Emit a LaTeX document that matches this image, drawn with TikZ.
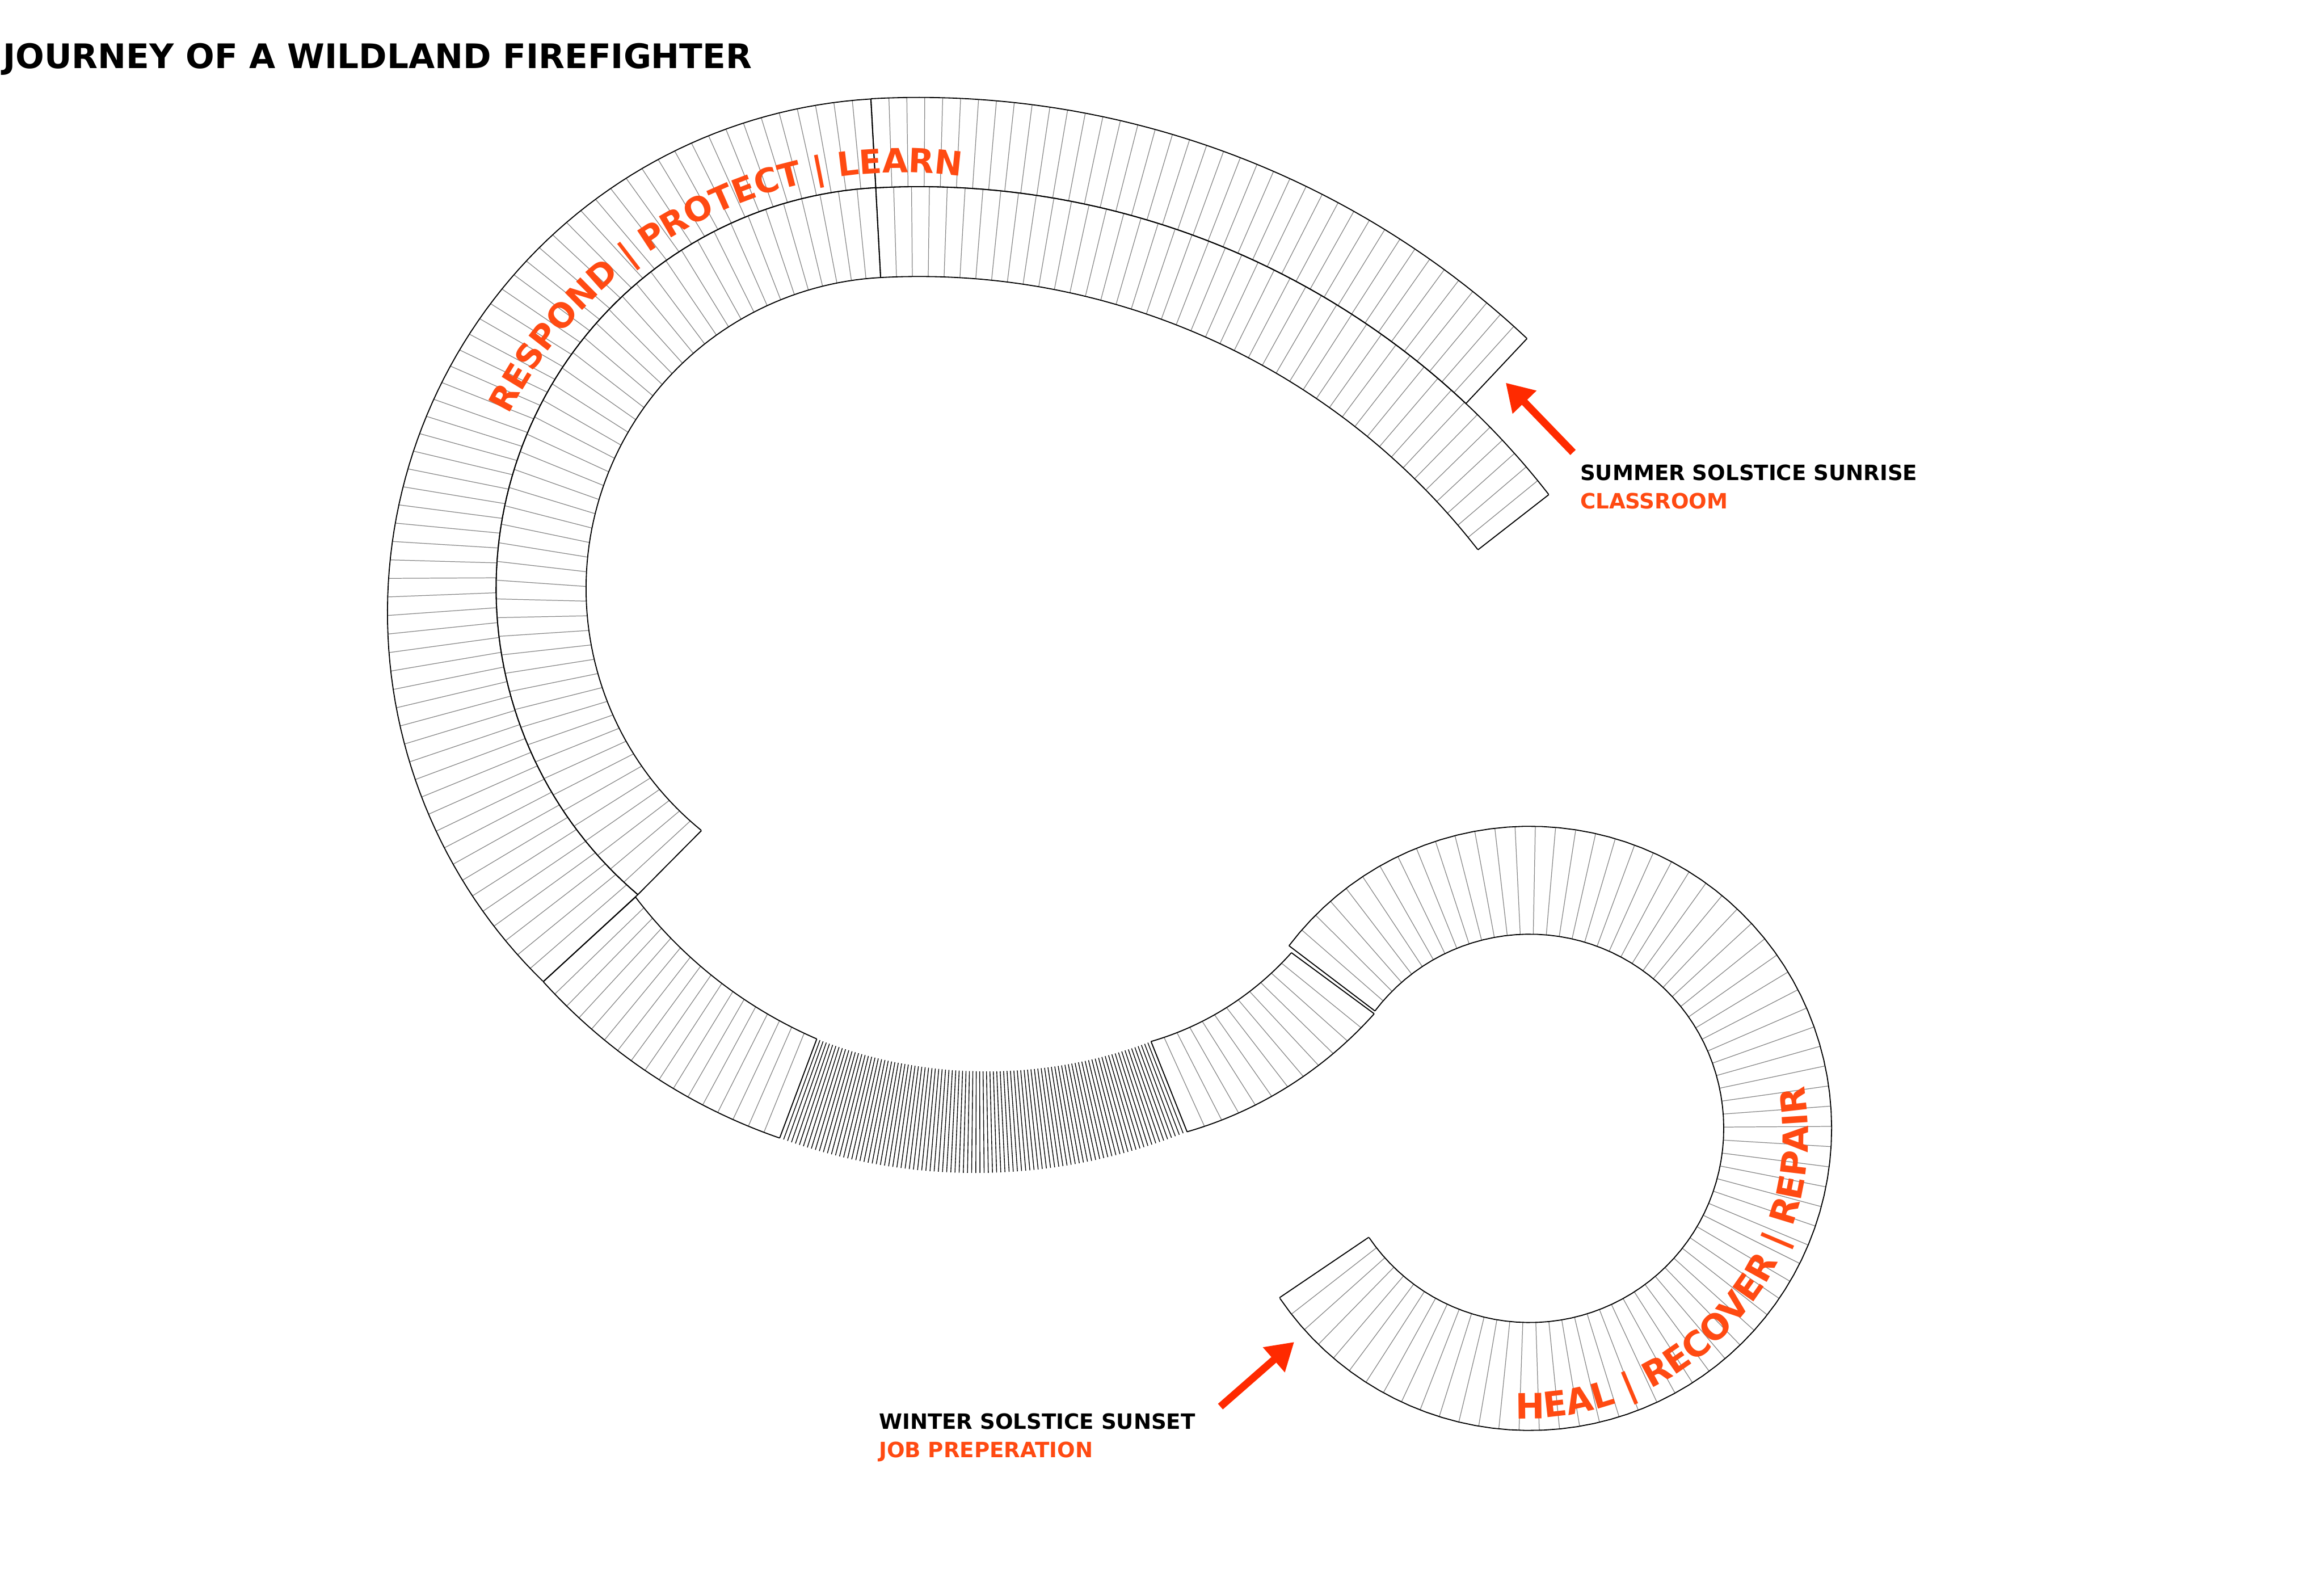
\documentclass[tikz,border=0pt]{standalone}
\usepackage{fontspec}
\setmainfont{DejaVu Sans}
\usepackage{tikz}
\usetikzlibrary{arrows.meta, decorations.text}
\definecolor{fireorange}{HTML}{FF4A12}
\definecolor{firered}{HTML}{FF2A00}
\definecolor{tickgray}{HTML}{868686}

% edge specs: cx/cy/r-start/r-end/angle-start/angle-end
\def\getin#1/#2/#3/#4/#5/#6\relax{\def\ix{#1}\def\iy{#2}\def\irA{#3}\def\irB{#4}\def\iaA{#5}\def\iaB{#6}}
\def\getout#1/#2/#3/#4/#5/#6\relax{\def\ox{#1}\def\oy{#2}\def\orA{#3}\def\orB{#4}\def\oaA{#5}\def\oaB{#6}}
\newcommand{\arcfont}{\fontsize{12.8pt}{15pt}\selectfont\bfseries\color{fireorange}}
\newcommand{\loopfont}{\fontsize{13.4pt}{15pt}\selectfont\bfseries\color{fireorange}}

\tikzset{
  % band outlines and day ticks
  bandedge/.style={draw=black, line width=0.4pt},
  daytick/.style={draw=tickgray, line width=0.27pt},
  densetick/.style={draw=black, line width=0.3pt},
  % labels
  titletext/.style={font=\fontsize{13pt}{15pt}\selectfont\bfseries, anchor=base west, inner sep=0pt},
  eventtext/.style={font=\fontsize{8.1pt}{10pt}\selectfont\bfseries, anchor=base west, inner sep=0pt},
  % solstice arrows
  solarrow/.style={-{Triangle[length=3.66mm, width=4.24mm]}, draw=firered, line width=1mm},
  declare function={
    inx(\q)=(\ix)+((\irA)+((\irB)-(\irA))*\q)*cos((\iaA)+((\iaB)-(\iaA))*\q);
    iny(\q)=(\iy)-((\irA)+((\irB)-(\irA))*\q)*sin((\iaA)+((\iaB)-(\iaA))*\q);
    outx(\q)=(\ox)+((\orA)+((\orB)-(\orA))*\q)*cos((\oaA)+((\oaB)-(\oaA))*\q);
    outy(\q)=(\oy)-((\orA)+((\orB)-(\orA))*\q)*sin((\oaA)+((\oaB)-(\oaA))*\q);
  }
}

% one band segment: [1 = outlined, 0 = ticks only]{inner edge}{outer edge}{intervals}
\newcommand{\bandseg}[4][1]{%
  \getin#2\relax\getout#3\relax
  \pgfmathtruncatemacro\nlast{#4-1}
  \foreach \k in {1,...,\nlast}{
    \pgfmathsetmacro\fr{\k/#4}
    \ifnum#1=1 \draw[daytick] \else \draw[densetick] \fi
      ({inx(\fr)},{iny(\fr)}) -- ({outx(\fr)},{outy(\fr)});
  }
  \ifnum#1=1
    \draw[bandedge] plot[domain=0:1, samples=90, variable=\q] ({inx(\q)},{iny(\q)});
    \draw[bandedge] plot[domain=0:1, samples=90, variable=\q] ({outx(\q)},{outy(\q)});
    \draw[bandedge] ({inx(0)},{iny(0)}) -- ({outx(0)},{outy(0)});
    \draw[bandedge] ({inx(1)},{iny(1)}) -- ({outx(1)},{outy(1)});
  \fi
}

\begin{document}
\begin{tikzpicture}[x=0.02cm, y=-0.02cm]

\useasboundingbox (0,0) rectangle (1568,1058.4);
\fill[white] (0,0) rectangle (1568,1058.4);

% ── Title ────────────────────────────────────────────────────────────────────
\node[titletext] (title) at (1.7,46.3) {JOURNEY OF A WILDLAND FIREFIGHTER};

% ── Top arc: outer track ─────────────────────────────────────────────────────
\bandseg{620/664.5/538.6/538.6/93.1/46.75}{620/664.5/598.8/598.8/93.1/46.75}{40}
\bandseg{605.5/397/270.8/270.8/93.1/229.7}{608.6/413.3/347.2/347.2/93.48/225.8}{64}

% ── Top arc: inner track ─────────────────────────────────────────────────────
\bandseg{620/664.5/478/478/93.1/37.9}{620/664.5/538.6/538.6/93.1/37.9}{43}
\bandseg{605.5/397/210.1/210.1/93.1/231}{605.5/397/270.8/270.8/93.1/229.7}{51}

% ── Bottom run ───────────────────────────────────────────────────────────────
\bandseg{660/410/302.6/310.6/220.17/249.47}{660/410/387/382/220.68/249.47}{17}
\bandseg[0]{660/410/310.6/315/249.47/291.73}{660/410/382/380.5/249.47/291.73}{100}
\bandseg{703.2/518.7/198/208.9/-68.24/-36.41}{703.2/518.7/263.6/278.3/-68.24/-36.41}{12}

% ── Loop ─────────────────────────────────────────────────────────────────────
\bandseg{1032/761.2/131/131/142.8/-145.9}{1032/761.2/203.8/203.8/142.8/-145.9}{75}

% ── Band texts ───────────────────────────────────────────────────────────────
\path[decorate, decoration={text along path, text align=left,
      text={|\arcfont|RESPOND {\textbar} PROTECT {\textbar} LEARN}}]
  plot[domain=153.3:70, samples=80] ({608.6+297*cos(\x)},{413.3-297*sin(\x)});
\path[decorate, decoration={text along path, text align=left,
      text={|\loopfont|HEAL {\textbar} RECOVER {\textbar} REPAIR}}]
  plot[domain=-91.6:25, samples=80] ({1028+192*cos(\x)},{765-192*sin(\x)});

% ── Solstice markers ─────────────────────────────────────────────────────────
\coordinate (sumtail) at (1061.3,305.2);
\coordinate (sumtip)  at (1015.9,258.2);
\draw[solarrow] (sumtail) -- (sumtip);
\node[eventtext] (summer) at (1065.8,323.9) {SUMMER SOLSTICE SUNRISE};
\node[eventtext, text=fireorange] (classroom) at (1065.8,343.2) {CLASSROOM};

\coordinate (wintail) at (823.4,948.9);
\coordinate (wintip)  at (873.2,905.3);
\draw[solarrow] (wintail) -- (wintip);
\node[eventtext] (winter) at (592.7,964.2) {WINTER SOLSTICE SUNSET};
\node[eventtext, text=fireorange] (jobprep) at (592.7,983.3) {JOB PREPERATION};

\end{tikzpicture}
\end{document}
